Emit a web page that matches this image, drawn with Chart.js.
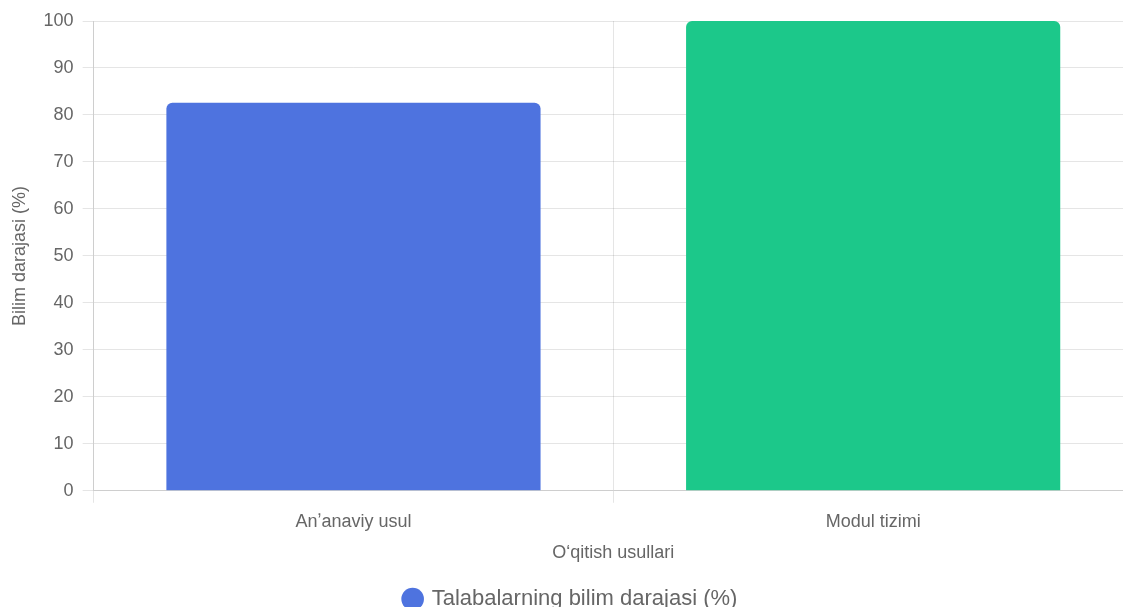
<!DOCTYPE html>
<html>
<head>
<meta charset="utf-8">
<script src="https://cdn.jsdelivr.net/npm/chart.js@4.4.0/dist/chart.umd.min.js"></script>
<style>
    html, body { margin: 0; padding: 0; background: #fff; overflow: hidden; }
    #wrap { position: relative; width: 1133px; height: 620px; }
</style>
</head>
<body>
<div id="wrap"><canvas id="bilim-chart"></canvas></div>
<script>
// Chart data
const categories = ['Anʼanaviy usul', 'Modul tizimi'];
const knowledgeLevels = [82.6, 100];
const barColors = ['#4e73df', '#1cc88a'];
const seriesLabel = 'Talabalarning bilim darajasi (%)';

Chart.defaults.font.family = '"Liberation Sans", Arial, sans-serif';
Chart.defaults.font.size = 18;
Chart.defaults.color = '#666';

const ctx = document.getElementById('bilim-chart');

new Chart(ctx, {
    type: 'bar',
    data: {
        labels: categories,
        datasets: [{
            label: seriesLabel,
            data: knowledgeLevels,
            backgroundColor: barColors,
            borderRadius: 6,
            barPercentage: 0.9,
            categoryPercentage: 0.8
        }]
    },
    options: {
        responsive: true,
        maintainAspectRatio: false,
        animation: false,
        layout: {
            padding: { left: 9, top: 21, right: 0, bottom: 0 }
        },
        plugins: {
            legend: {
                position: 'bottom',
                labels: {
                    usePointStyle: true,
                    pointStyle: 'circle',
                    boxWidth: 16,
                    boxHeight: 16,
                    padding: 21,
                    font: { size: 22 }
                }
            },
            tooltip: { enabled: false }
        },
        scales: {
            x: {
                grid: { tickLength: 12 },
                ticks: { padding: 8 },
                title: {
                    display: true,
                    text: 'Oʻqitish usullari',
                    padding: { top: 2, bottom: 3 }
                }
            },
            y: {
                min: 0,
                max: 100,
                grid: { tickLength: 11 },
                ticks: { stepSize: 10, padding: 9 },
                title: {
                    display: true,
                    text: 'Bilim darajasi (%)',
                    padding: { top: 0, bottom: 4 }
                }
            }
        }
    }
});
</script>
</body>
</html>
